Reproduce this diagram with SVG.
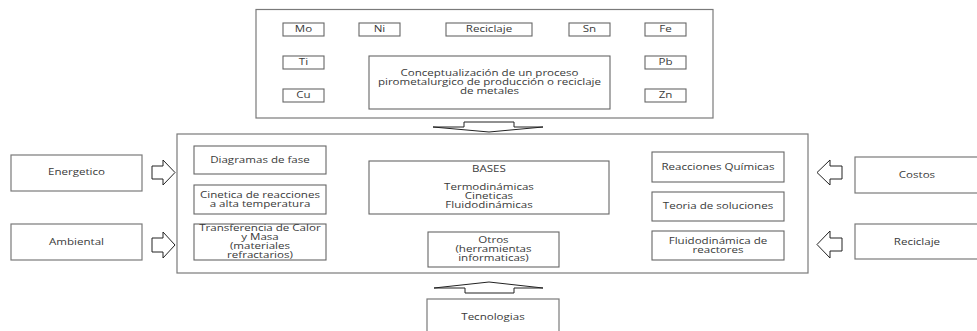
<svg xmlns="http://www.w3.org/2000/svg" width="977" height="331" viewBox="0 0 977 331">
<style>
.b{fill:#fff;stroke:#7a7a7a;stroke-width:1.2}
.s{fill:#fff;stroke:#666;stroke-width:1.1}
.t{font-family:"Open Sans","DejaVu Sans",sans-serif;font-size:8.7px;fill:#3a3a3a;text-anchor:middle;transform-box:fill-box;transform-origin:center;transform:scaleX(1.33)}
.a{fill:#fff;stroke:#222;stroke-width:1;stroke-linejoin:miter}
</style>
<rect width="977" height="331" fill="#fff"/>
<g id="top">
<rect class="b" x="256" y="9.5" width="457" height="108.5"/>
</g>
<g id="mo"><rect class="s" x="283" y="23" width="41" height="13"/><text class="t" x="303.5" y="32.5">Mo</text></g>
<g id="ni"><rect class="s" x="359" y="23" width="41" height="13"/><text class="t" x="379.5" y="32.5">Ni</text></g>
<g id="reciclaje-top"><rect class="s" x="446" y="23" width="86" height="13"/><text class="t" x="489" y="32.5">Reciclaje</text></g>
<g id="sn"><rect class="s" x="569" y="23" width="41" height="13"/><text class="t" x="589.5" y="32.5">Sn</text></g>
<g id="fe"><rect class="s" x="645" y="23" width="41" height="13"/><text class="t" x="665.5" y="32.5">Fe</text></g>
<g id="ti"><rect class="s" x="283" y="56" width="41" height="13"/><text class="t" x="303.5" y="65.5">Ti</text></g>
<g id="pb"><rect class="s" x="645" y="56" width="41" height="13"/><text class="t" x="665.5" y="65.5">Pb</text></g>
<g id="cu"><rect class="s" x="283" y="89" width="41" height="13"/><text class="t" x="303.5" y="98.5">Cu</text></g>
<g id="zn"><rect class="s" x="645" y="89" width="41" height="13"/><text class="t" x="665.5" y="98.5">Zn</text></g>
<g id="concepto"><rect class="s" x="369" y="56" width="241" height="53"/>
<text class="t" x="489.5" y="76">Conceptualización de un proceso</text>
<text class="t" x="489.5" y="84.8">pirometalurgico de producción o reciclaje</text>
<text class="t" x="489.5" y="93.6">de metales</text></g>

<g id="main"><rect class="b" x="177" y="134" width="631" height="139"/></g>
<g id="diagramas"><rect class="s" x="194" y="146" width="132" height="28"/><text class="t" x="260" y="163">Diagramas de fase</text></g>
<g id="cinetica"><rect class="s" x="194" y="185" width="132" height="29"/><text class="t" x="260" y="198">Cinetica de reacciones</text><text class="t" x="260" y="207">a alta temperatura</text></g>
<g id="transferencia"><rect class="s" x="194" y="224" width="132" height="36"/><text class="t" x="260" y="231">Transferencia de Calor</text><text class="t" x="260" y="240">y Masa</text><text class="t" x="260" y="248.8">(materiales</text><text class="t" x="260" y="257.6">refractarios)</text></g>
<g id="bases"><rect class="s" x="369" y="161" width="240" height="53"/><text class="t" x="489" y="172">BASES</text><text class="t" x="489" y="190">Termodinámicas</text><text class="t" x="489" y="199">Cineticas</text><text class="t" x="489" y="208">Fluidodinámicas</text></g>
<g id="otros"><rect class="s" x="428" y="232" width="131" height="35"/><text class="t" x="493.5" y="243">Otros</text><text class="t" x="493.5" y="252">(herramientas</text><text class="t" x="493.5" y="261">informaticas)</text></g>
<g id="reacciones"><rect class="s" x="652" y="152" width="132" height="30"/><text class="t" x="718" y="170">Reacciones Químicas</text></g>
<g id="teoria"><rect class="s" x="652" y="192" width="132" height="29"/><text class="t" x="718" y="209.5">Teoria de soluciones</text></g>
<g id="fluido"><rect class="s" x="652" y="231" width="132" height="29"/><text class="t" x="718" y="244">Fluidodinámica de</text><text class="t" x="718" y="253">reactores</text></g>

<g id="energetico"><rect class="b" x="11" y="155" width="131" height="36"/><text class="t" x="76.5" y="175.5">Energetico</text></g>
<g id="ambiental"><rect class="b" x="11" y="224" width="131" height="36"/><text class="t" x="76.5" y="245">Ambiental</text></g>
<g id="costos"><rect class="b" x="855" y="157" width="130" height="36"/><text class="t" x="917" y="178.5">Costos</text></g>
<g id="reciclaje"><rect class="b" x="855" y="224" width="130" height="35"/><text class="t" x="917" y="245">Reciclaje</text></g>
<g id="tecnologias"><rect class="b" x="427" y="299" width="132" height="40"/><text class="t" x="493" y="320">Tecnologias</text></g>

<g id="connectors">
<polygon class="a" points="464,122 514,122 514,127 543,127 489,132 433,127 464,127"/>
<polygon class="a" points="465,293 514,293 514,288 543,288 489,282 434,288 465,288"/>
<polygon class="a" points="152,166 163,166 163,160 175,172.5 163,185 163,179 152,179"/>
<polygon class="a" points="152,238 163,238 163,232 175,245 163,258 163,252 152,252"/>
<polygon class="a" points="842,166 830,166 830,160 817,172.5 830,185 830,179 842,179"/>
<polygon class="a" points="842,238 830,238 830,231 817,244.5 830,258 830,251 842,251"/>
</g>
</svg>
